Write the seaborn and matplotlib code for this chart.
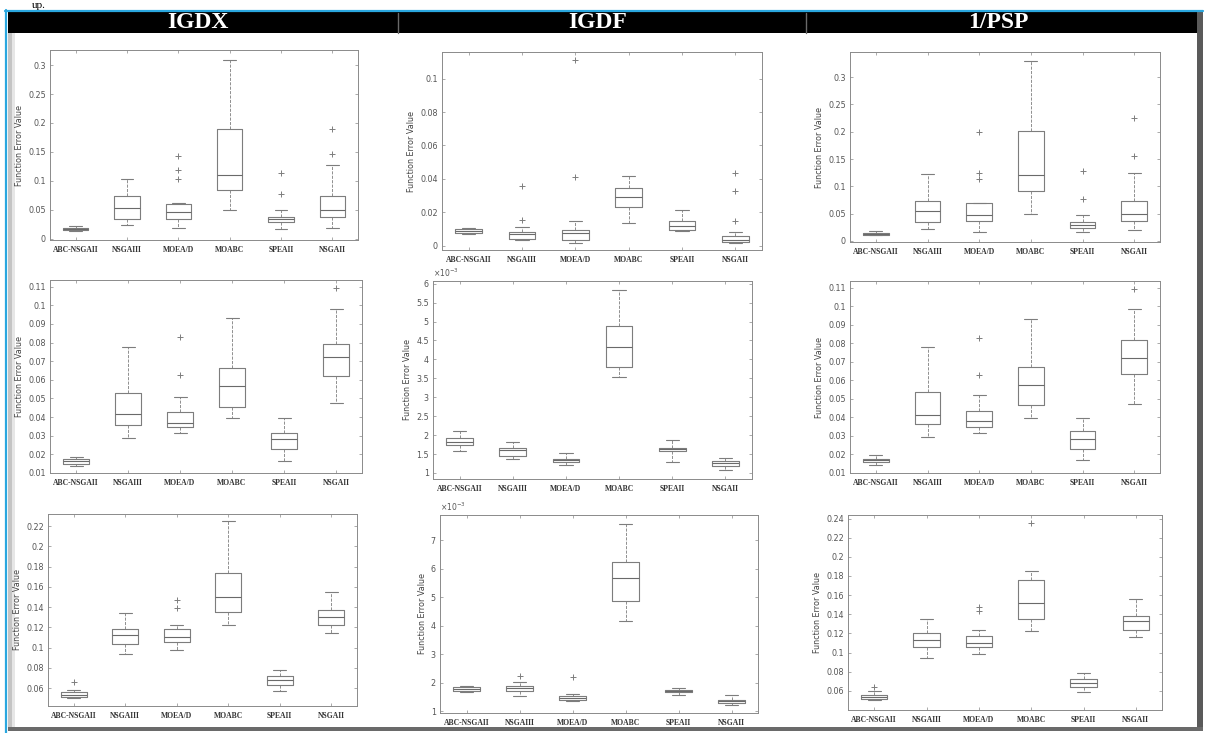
import numpy as np
import pandas as pd
import matplotlib
matplotlib.use("Agg")
import matplotlib.pyplot as plt
from matplotlib.patches import Rectangle
from matplotlib.lines import Line2D
from matplotlib.ticker import FuncFormatter
import seaborn as sns

# ---------------- data ----------------
ALGS = ["ABC-NSGAII", "NSGAIII", "MOEA/D", "MOABC", "SPEAII", "NSGAII"]
COLUMN_TITLES = ["IGDX", "IGDF", "1/PSP"]
Y_LABEL = "Function Error Value"

# each row: [lower whisker, Q1, median, Q3, upper whisker] per algorithm
IGDX_1 = [[0.013, 0.015, 0.017, 0.019, 0.022],
          [0.024, 0.034, 0.053, 0.074, 0.103],
          [0.018, 0.035, 0.046, 0.060, 0.062],
          [0.050, 0.085, 0.110, 0.189, 0.309],
          [0.017, 0.029, 0.034, 0.037, 0.049],
          [0.018, 0.037, 0.049, 0.074, 0.127]]
IGDX_1_OUT = [[], [], [0.103, 0.119, 0.143], [], [0.077, 0.114], [0.146, 0.189]]

IGDF_1 = [[0.0070, 0.0076, 0.0090, 0.0100, 0.0104],
          [0.0034, 0.0040, 0.0070, 0.0080, 0.0114],
          [0.0016, 0.0034, 0.0076, 0.0096, 0.0150],
          [0.0136, 0.0234, 0.0290, 0.0344, 0.0416],
          [0.0090, 0.0094, 0.0120, 0.0150, 0.0216],
          [0.0016, 0.0022, 0.0036, 0.0056, 0.0080]]
IGDF_1_OUT = [[], [0.0154, 0.036], [0.041, 0.111], [], [], [0.015, 0.0326, 0.0436]]

PSP_1 = [[0.010, 0.011, 0.013, 0.015, 0.018],
         [0.021, 0.035, 0.055, 0.073, 0.122],
         [0.016, 0.037, 0.047, 0.070, 0.070],
         [0.050, 0.091, 0.121, 0.202, 0.330],
         [0.016, 0.023, 0.029, 0.035, 0.047],
         [0.020, 0.037, 0.050, 0.073, 0.125]]
PSP_1_OUT = [[], [], [0.113, 0.125, 0.200], [], [0.076, 0.128], [0.155, 0.226]]

IGDX_2 = [[0.0136, 0.0150, 0.0165, 0.0177, 0.0186],
          [0.0290, 0.0357, 0.0415, 0.0532, 0.0776],
          [0.0316, 0.0348, 0.0370, 0.0426, 0.0510],
          [0.0393, 0.0456, 0.0568, 0.0663, 0.0930],
          [0.0165, 0.0228, 0.0285, 0.0316, 0.0393],
          [0.0474, 0.0620, 0.0720, 0.0794, 0.0980]]
IGDX_2_OUT = [[], [], [0.0627, 0.0828], [], [], [0.1095]]

# values in units of 1e-3
IGDF_2 = [[1.57, 1.75, 1.83, 1.92, 2.12],
          [1.38, 1.44, 1.61, 1.66, 1.81],
          [1.22, 1.29, 1.35, 1.38, 1.53],
          [3.54, 3.81, 4.33, 4.88, 5.84],
          [1.30, 1.57, 1.63, 1.66, 1.88],
          [1.07, 1.19, 1.26, 1.31, 1.39]]
IGDF_2_OUT = [[], [], [], [], [], []]

PSP_2 = [[0.0141, 0.0159, 0.0168, 0.0177, 0.0195],
         [0.0294, 0.0366, 0.0415, 0.0537, 0.0780],
         [0.0316, 0.0348, 0.0380, 0.0433, 0.0519],
         [0.0397, 0.0465, 0.0573, 0.0672, 0.0933],
         [0.0172, 0.0231, 0.0285, 0.0325, 0.0399],
         [0.0474, 0.0636, 0.0722, 0.0816, 0.0983]]
PSP_2_OUT = [[], [], [0.0627, 0.083], [], [], [0.1095]]

IGDX_3 = [[0.0500, 0.0513, 0.0533, 0.0557, 0.0580],
          [0.0940, 0.1040, 0.1123, 0.1180, 0.1340],
          [0.0980, 0.1057, 0.1107, 0.1180, 0.1223],
          [0.1223, 0.1347, 0.1500, 0.1740, 0.2247],
          [0.0573, 0.0633, 0.0680, 0.0723, 0.0780],
          [0.1140, 0.1223, 0.1307, 0.1367, 0.1547]]
IGDX_3_OUT = [[0.0657], [], [0.139, 0.147], [], [], []]

# values in units of 1e-3
IGDF_3 = [[1.68, 1.72, 1.78, 1.84, 1.90],
          [1.55, 1.70, 1.82, 1.87, 2.01],
          [1.35, 1.38, 1.45, 1.52, 1.62],
          [4.15, 4.87, 5.66, 6.22, 7.56],
          [1.56, 1.66, 1.72, 1.76, 1.82],
          [1.23, 1.29, 1.35, 1.41, 1.58]]
IGDF_3_OUT = [[], [2.25], [2.19], [], [], []]

PSP_3 = [[0.0506, 0.0513, 0.0540, 0.0558, 0.0600],
         [0.0940, 0.1056, 0.1132, 0.1200, 0.1348],
         [0.0986, 0.1056, 0.1097, 0.1177, 0.1237],
         [0.1226, 0.1348, 0.1515, 0.1760, 0.1852],
         [0.0586, 0.0645, 0.0687, 0.0722, 0.0784],
         [0.1167, 0.1237, 0.1334, 0.1383, 0.1560]]
PSP_3_OUT = [[0.0645], [], [0.143, 0.148], [0.235], [], []]

YT_1A = [0, 0.05, 0.1, 0.15, 0.2, 0.25, 0.3]
YT_1B = [0, 0.02, 0.04, 0.06, 0.08, 0.1]
YT_2A = [0.01, 0.02, 0.03, 0.04, 0.05, 0.06, 0.07, 0.08, 0.09, 0.1, 0.11]
YT_2B = [1, 1.5, 2, 2.5, 3, 3.5, 4, 4.5, 5, 5.5, 6]
YT_3A = [0.06, 0.08, 0.1, 0.12, 0.14, 0.16, 0.18, 0.2, 0.22]
YT_3B = [1, 2, 3, 4, 5, 6, 7]
YT_3C = [0.06, 0.08, 0.1, 0.12, 0.14, 0.16, 0.18, 0.2, 0.22, 0.24]

# ---------------- figure ----------------
W, H = 1205, 733
sns.set_style("white")
plt.rcParams["font.family"] = ["DejaVu Sans"]
fig = plt.figure(figsize=(W / 100, H / 100), dpi=100)
fig.patch.set_facecolor("white")


def rect(x0, y0, x1, y1, color, z=0):
    fig.add_artist(Rectangle((x0 / W, 1 - y1 / H), (x1 - x0) / W, (y1 - y0) / H,
                             transform=fig.transFigure, facecolor=color,
                             edgecolor="none", zorder=z))


def vline(x, y0, y1, color, lw, z=1):
    fig.add_artist(Line2D([x / W, x / W], [1 - y0 / H, 1 - y1 / H],
                          transform=fig.transFigure, color=color, lw=lw, zorder=z))


def hline(y, x0, x1, color, lw, z=1):
    fig.add_artist(Line2D([x0 / W, x1 / W], [1 - y / H, 1 - y / H],
                          transform=fig.transFigure, color=color, lw=lw, zorder=z))


# frame decorations (drawn beneath the axes)
rect(8, 12, 1197, 33, "black", 1)
rect(1197, 12, 1203, 731, "#5a5a5a", 1)
rect(8, 727, 1203, 731, "#6a6a6a", 1)
rect(8, 33, 12, 727, "#c4c4c4", -1)
rect(12, 33, 15, 727, "#e6e6e6", -1)
hline(10.5, 5, 1203, "#2aa7df", 1.6, 2)
vline(6, 10, 733, "#2aa7df", 1.6, 2)
vline(398, 13, 33, "#6a6a6a", 1.0, 2)
vline(806, 13, 33, "#6a6a6a", 1.0, 2)
fig.text(32 / W, 1 - 0.5 / H, "up.", fontsize=8, family="Liberation Serif",
         va="top", ha="left", color="black")

for cx, title in zip([198, 598, 998], COLUMN_TITLES):
    fig.text(cx / W, 1 - 22.5 / H, title, color="white", fontsize=17,
             fontweight="bold", family="Liberation Serif", ha="center", va="center",
             zorder=3)

LINE = "#7d7d7d"

panels = [
    (IGDX_1, IGDX_1_OUT, (50, 50, 358, 240), (-0.002, 0.326), YT_1A, False),
    (IGDF_1, IGDF_1_OUT, (442, 52, 762, 250), (-0.0026, 0.116), YT_1B, False),
    (PSP_1, PSP_1_OUT, (850, 52, 1160, 242), (-0.002, 0.346), YT_1A, False),
    (IGDX_2, IGDX_2_OUT, (50, 280, 362, 473), (0.01, 0.1136), YT_2A, False),
    (IGDF_2, IGDF_2_OUT, (433, 281, 752, 479), (0.84, 6.07), YT_2B, True),
    (PSP_2, PSP_2_OUT, (850, 281, 1160, 473), (0.01, 0.1136), YT_2A, False),
    (IGDX_3, IGDX_3_OUT, (48, 514, 357, 706), (0.0423, 0.232), YT_3A, False),
    (IGDF_3, IGDF_3_OUT, (440, 515, 758, 713), (0.94, 7.88), YT_3B, True),
    (PSP_3, PSP_3_OUT, (848, 515, 1162, 710), (0.040, 0.2437), YT_3C, False),
]

for stats, outs, (l, t, r, b), ylim, yticks, sci in panels:
    ax = fig.add_axes([l / W, 1 - b / H, (r - l) / W, (b - t) / H])
    rows = [(a, v) for a, s in zip(ALGS, stats) for v in s]
    df = pd.DataFrame(rows, columns=["alg", "val"])
    sns.boxplot(data=df, x="alg", y="val", order=ALGS, whis=(0, 100), width=0.5,
                fill=False, color=LINE, linewidth=0.8, ax=ax,
                whiskerprops=dict(linestyle="--", linewidth=0.6),
                medianprops=dict(color="#6a6a6a", linewidth=0.8))
    orows = [(a, v) for a, s in zip(ALGS, outs) for v in s]
    if orows:
        odf = pd.DataFrame(orows, columns=["alg", "val"])
        sns.stripplot(data=odf, x="alg", y="val", order=ALGS, jitter=False,
                      marker="+", color=LINE, size=4, linewidth=0.7, ax=ax,
                      legend=False)
    ax.set_xlim(-0.5, 5.5)
    ax.set_ylim(*ylim)
    ax.set_yticks(yticks)
    ax.yaxis.set_major_formatter(FuncFormatter(lambda v, p: "%g" % v))
    ax.set_xlabel("")
    ax.set_ylabel(Y_LABEL, fontsize=5.8, color="#444444", labelpad=3)
    ax.tick_params(axis="y", labelsize=5.8, labelcolor="#555555", direction="in",
                   length=2, width=0.5, color="#888888", left=True, right=True, pad=3)
    ax.tick_params(axis="x", direction="in", length=2, width=0.5, color="#888888",
                   bottom=True, top=True, pad=4)
    for lab in ax.get_xticklabels():
        lab.set_fontfamily("Liberation Serif")
        lab.set_fontweight("bold")
        lab.set_fontsize(5.5)
        lab.set_color("#333333")
    for sp in ax.spines.values():
        sp.set_color("#8a8a8a")
        sp.set_linewidth(0.7)
    if sci:
        ax.text(0.0, 1.01, r"$\times10^{-3}$", transform=ax.transAxes,
                fontsize=5.5, color="#555555", ha="left", va="bottom")

fig.savefig("out.png", dpi=100)
